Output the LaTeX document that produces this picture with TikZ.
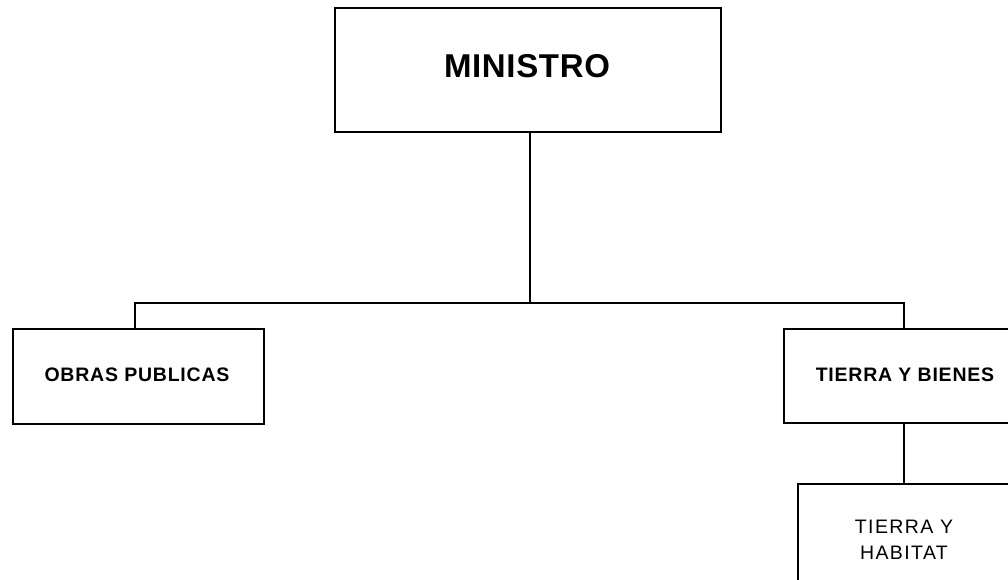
\documentclass[tikz,border=0pt]{standalone}
\usepackage{fontspec}
\setmainfont{Liberation Sans}
\begin{document}
\begin{tikzpicture}[x=1pt,y=-1pt,
  box/.style={draw,line width=2.2pt,inner sep=0pt,anchor=north west},
  conn/.style={line width=2.2pt},
  lbl/.style={font=\fontsize{19.5}{22}\selectfont\bfseries\addfontfeature{LetterSpace=4}}]
\useasboundingbox (0,0) rectangle (1008,579);
\clip (0,0) rectangle (1008,579);
\node[box,minimum width=386pt,minimum height=124pt] (min) at (334,7) {};
\node[font=\fontsize{33}{36}\selectfont\bfseries\addfontfeature{LetterSpace=2}] at (527,66) {MINISTRO};
\node[box,minimum width=251pt,minimum height=95pt] (obr) at (12,328) {};
\node[lbl] at (137,375) {OBRAS PUBLICAS};
\node[box,minimum width=244pt,minimum height=94pt] (tie) at (783,328) {};
\node[lbl] at (905,375) {TIERRA Y BIENES};
\node[box,minimum width=214pt,minimum height=120pt] (hab) at (797,483) {};
\node[font=\fontsize{19.5}{26}\selectfont\addfontfeature{LetterSpace=7},align=center] at (904,540) {TIERRA Y\\HABITAT};
\coordinate (j) at (530,303);
\draw[conn] (min.south -| j) -- (j);
\draw[conn] (obr.north -| 135,0) |- (j) -| (tie.north -| 904,0);
\draw[conn] (tie.south -| 904,0) -- (hab.north -| 904,0);
\end{tikzpicture}
\end{document}
